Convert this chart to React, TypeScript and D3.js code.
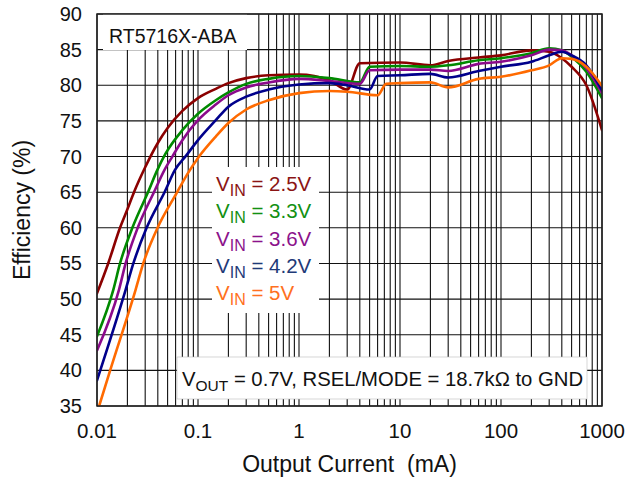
import React from 'react'
import * as d3 from 'd3'

// chart values
const yTicks = [35, 40, 45, 50, 55, 60, 65, 70, 75, 80, 85, 90]
const xTicks = [0.01, 0.1, 1, 10, 100, 1000]
const xTickLabels = ['0.01', '0.1', '1', '10', '100', '1000']

const vin25Current = [0.01, 0.0129, 0.0169, 0.02, 0.0234, 0.03, 0.04, 0.05, 0.07, 0.1, 0.15, 0.2, 0.3, 0.5, 1, 2, 3, 4, 10, 20, 30, 60, 100, 200, 300, 400, 500, 700, 1000]
const vin25Eff = [50.8, 55, 60, 62.6, 65.1, 68.5, 71.9, 74.0, 76.4, 78.2, 79.5, 80.3, 81.0, 81.4, 81.5, 80.7, 79.4, 83.1, 83.2, 82.8, 83.4, 83.9, 84.2, 84.9, 84.7, 83.8, 82.6, 80.0, 73.7]

const vin33Current = [0.01, 0.0145, 0.0169, 0.0224, 0.0322, 0.0395, 0.0477, 0.07, 0.1, 0.15, 0.2, 0.3, 0.5, 1, 2, 4, 5, 10, 20, 30, 60, 100, 200, 300, 400, 500, 700, 1000]
const vin33Eff = [44.8, 51.3, 55, 60, 65.1, 68.1, 70.4, 73.7, 76.0, 77.9, 79.0, 80.2, 80.9, 81.3, 81.0, 80.4, 82.6, 82.7, 82.6, 82.8, 83.5, 83.8, 84.5, 85.2, 84.9, 84.0, 81.9, 78.2]

const vin36Current = [0.01, 0.0165, 0.0192, 0.0253, 0.0369, 0.0465, 0.0557, 0.07, 0.1, 0.15, 0.2, 0.3, 0.5, 1, 2, 4, 5, 10, 20, 30, 60, 100, 200, 300, 400, 500, 700, 1000]
const vin36Eff = [42.8, 51.3, 55, 60, 65.1, 68.1, 70, 72.3, 75.1, 77.3, 78.6, 79.7, 80.4, 80.9, 80.6, 80.2, 82.1, 82.2, 82.2, 82.0, 83.0, 83.3, 84.2, 85.0, 84.9, 84.2, 82.4, 78.9]

const vin42Current = [0.01, 0.0192, 0.0229, 0.031, 0.047, 0.059, 0.077, 0.1, 0.15, 0.2, 0.3, 0.5, 1, 2, 3, 5, 6, 10, 20, 30, 60, 100, 200, 300, 400, 500, 700, 1000]
const vin42Eff = [38.6, 51.3, 55, 60, 65.1, 68.1, 70.2, 72.3, 75.1, 77.0, 78.4, 79.4, 80.1, 80.3, 80.0, 79.4, 81.3, 81.4, 81.6, 81.1, 82.0, 82.6, 83.3, 84.2, 84.7, 84.2, 82.8, 79.3]

const vin5Current = [0.0105, 0.0135, 0.0241, 0.0287, 0.0398, 0.0616, 0.079, 0.1, 0.15, 0.2, 0.3, 0.5, 1, 2, 3, 6, 7.3, 10, 20, 30, 60, 100, 200, 300, 400, 500, 700, 1000]
const vin5Eff = [35, 40, 51.3, 55, 60, 64.9, 67.6, 69.8, 72.8, 74.7, 76.6, 77.9, 78.9, 79.2, 79.1, 78.6, 80.2, 80.3, 80.4, 79.7, 80.9, 81.2, 82.1, 82.8, 83.8, 83.7, 82.6, 79.9]

const seriesNames = ['2.5V', '3.3V', '3.6V', '4.2V', '5V']
const lineColors = ['#8b0000', '#008a00', '#8b0a8b', '#00008b', '#ff6a00']
const textColors = ['#8b1414', '#129012', '#8b128b', '#1f3a78', '#ff7020']

const W = 639, H = 477
const margin = { top: 14, right: 37, bottom: 71, left: 97 }
const FONT = '"Liberation Sans", Arial, sans-serif'

export default function App() {
  const x = d3.scaleLog().domain([0.01, 1000]).range([margin.left, W - margin.right])
  const y = d3.scaleLinear().domain([35, 90]).range([H - margin.bottom, margin.top])

  const series = [
    { cur: vin25Current, eff: vin25Eff },
    { cur: vin33Current, eff: vin33Eff },
    { cur: vin36Current, eff: vin36Eff },
    { cur: vin42Current, eff: vin42Eff },
    { cur: vin5Current, eff: vin5Eff },
  ]

  const line = d3.line<[number, number]>()
    .x(d => x(d[0]))
    .y(d => y(d[1]))
    .curve(d3.curveMonotoneX)

  // minor + major vertical grid
  const vGrid: number[] = []
  for (let dec = 0.01; dec < 1000; dec *= 10) {
    for (let k = 1; k < 10; k++) vGrid.push(dec * k)
  }
  vGrid.push(1000)

  const x0 = x(0.01), x1 = x(1000), y0 = y(35), y1 = y(90)

  return (
    <svg width={W} height={H} style={{ position: 'absolute', left: 0, top: 0 }} fontFamily={FONT}>
      <rect x={0} y={0} width={W} height={H} fill="#fff" />
      <defs>
        <clipPath id="plot">
          <rect x={x0} y={y1} width={x1 - x0} height={y0 - y1} />
        </clipPath>
      </defs>

      {vGrid.map((v, i) => (
        <line key={'v' + i} x1={x(v)} x2={x(v)} y1={y1} y2={y0} stroke="#111" strokeWidth={1.1} />
      ))}
      {yTicks.map(t => (
        <line key={'h' + t} x1={x0} x2={x1} y1={y(t)} y2={y(t)} stroke="#111" strokeWidth={1.1} />
      ))}

      {/* white label boxes over the grid */}
      <rect x={103} y={y1} width={144} height={36} fill="#fff" />
      <rect x={212} y={167} width={107} height={146} fill="#fff" />
      <rect x={177} y={357} width={410} height={42} fill="#fff" stroke="#bbb" strokeWidth={0.6} />

      <g clipPath="url(#plot)">
        {series.map((s, i) => (
          <path key={i}
            d={line(s.cur.map((c, j) => [c, s.eff[j]] as [number, number])) || ''}
            fill="none" stroke={lineColors[i]} strokeWidth={2.6}
            strokeLinejoin="round" strokeLinecap="round" />
        ))}
      </g>

      <rect x={x0} y={y1} width={x1 - x0} height={y0 - y1} fill="none" stroke="#222" strokeWidth={1.5} />

      <text x={109} y={43} fontSize={19.5} fill="#111">RT5716X-ABA</text>

      {seriesNames.map((n, i) => (
        <text key={n} x={216} y={191 + i * 27.3} fontSize={20.5} fill={textColors[i]}>
          V<tspan fontSize={16} dy={5}>IN</tspan><tspan dy={-5}> = {n}</tspan>
        </text>
      ))}

      <text x={182} y={386} fontSize={20.3} fill="#111">
        V<tspan fontSize={15.5} dy={4.5}>OUT</tspan><tspan dy={-4.5}> = 0.7V, RSEL/MODE = 18.7kΩ to GND</tspan>
      </text>

      {yTicks.map(t => (
        <text key={'yl' + t} x={82} y={y(t) + 7} fontSize={20} textAnchor="end" fill="#111">{t}</text>
      ))}
      {xTicks.map((t, i) => (
        <text key={'xl' + t} x={x(t)} y={438} fontSize={20.5} textAnchor="middle" fill="#111">{xTickLabels[i]}</text>
      ))}

      <text x={(x0 + x1) / 2} y={472} fontSize={23} textAnchor="middle" fill="#111" xmlSpace="preserve">Output Current  (mA)</text>
      <text transform={`translate(30,${(y0 + y1) / 2}) rotate(-90)`} fontSize={23} textAnchor="middle" fill="#111">Efficiency (%)</text>
    </svg>
  )
}
